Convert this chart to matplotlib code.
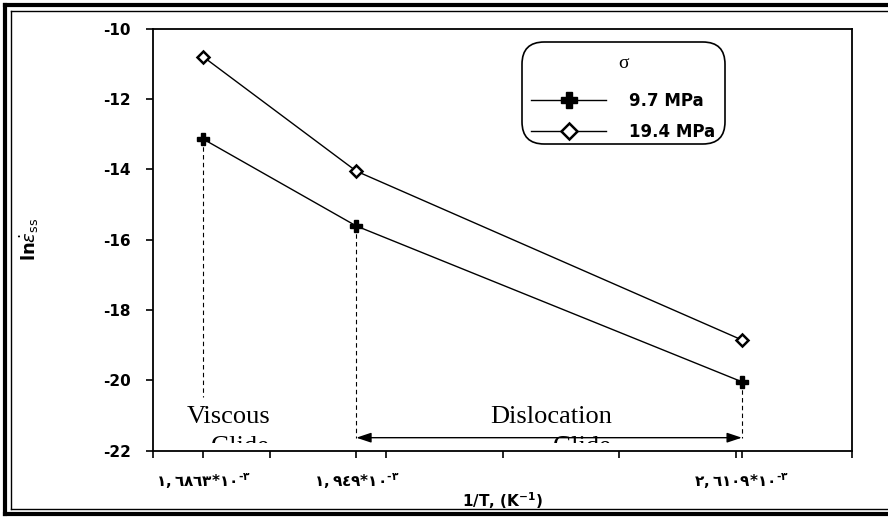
import numpy as np
from matplotlib import pyplot as plt
from matplotlib.lines import Line2D
from matplotlib.patches import Rectangle, FancyBboxPatch

# 1/T values (x 10^-3 K^-1) and ln(strain rate) for each stress level
inv_T = [1.6863, 1.949, 2.6109]
ln_rate_97 = [-13.14, -15.61, -20.04]
ln_rate_194 = [-10.80, -14.05, -18.85]
series_labels = ["9.7 MPa", "19.4 MPa"]
tick_labels = [
    r"$\mathbf{١,٦٨٦٣{*}١٠}^{\mathbf{‐٣}}$",
    r"$\mathbf{١,٩٤٩{*}١٠}^{\mathbf{‐٣}}$",
    r"$\mathbf{٢,٦١٠٩{*}١٠}^{\mathbf{‐٣}}$",
]

plt.rcParams["font.family"] = ["DejaVu Sans"]
plt.rcParams["mathtext.fontset"] = "dejavusans"
plt.rcParams["axes.unicode_minus"] = False

W, H = 888, 519
fig = plt.figure(figsize=(W / 100, H / 100), dpi=100)
ax = fig.add_axes([153 / W, 1 - 450.7 / H, 699 / W, 422 / H])

ax.plot(inv_T, ln_rate_97, color="k", lw=1.0, marker="P", ms=9,
        mfc="k", mec="k", label=series_labels[0])
ax.plot(inv_T, ln_rate_194, color="k", lw=1.0, marker="D", ms=6,
        mfc="white", mec="k", mew=1.8, label=series_labels[1])

# dashed drop lines
ax.plot([inv_T[0], inv_T[0]], [ln_rate_97[0], -20.47], "k--", lw=0.8,
        dashes=(4, 3))
for xv, yv in zip(inv_T[1:], ln_rate_97[1:]):
    ax.plot([xv, xv], [yv, -21.63], "k--", lw=0.8, dashes=(4, 3))

ax.annotate("", xy=(inv_T[1], -21.63), xytext=(inv_T[2], -21.63),
            arrowprops=dict(arrowstyle="<|-|>,head_length=0.9,head_width=0.3",
                            mutation_scale=10, color="k", lw=1.0,
                            shrinkA=0, shrinkB=0))

clip = Rectangle((1.6, -21.78), 1.2, 12, transform=ax.transData)
for xt, line1 in [(1.801, "Viscous"), (2.388, "Dislocation")]:
    ax.text(xt, -21.21, line1, family="Liberation Serif", fontsize=19,
            ha="right", va="baseline")
    t = ax.text(xt, -22.065, "Glide", family="Liberation Serif", fontsize=19,
                ha="right", va="baseline")
    t.set_clip_path(clip)
    t.set_clip_on(True)

ax.set_xlim(1.6, 2.8)
ax.set_ylim(-22, -10)
ax.set_xticks(np.arange(1.6, 2.81, 0.2))
ax.set_xticklabels([])
ax.set_xticks(inv_T, tick_labels, minor=True)
ax.set_yticks(np.arange(-22, -9, 2))
ax.tick_params(axis="both", which="both", direction="out", length=5,
               width=1.2, color="k")
ax.tick_params(axis="y", labelsize=11, pad=11)
ax.tick_params(axis="x", which="minor", labelsize=11, pad=10)
for lab in ax.get_yticklabels():
    lab.set_fontweight("bold")
for sp in ax.spines.values():
    sp.set_linewidth(1.3)

ax.set_xlabel(r"1/T, (K$^{\mathbf{-1}}$)", fontsize=11, fontweight="bold")
ax.xaxis.set_label_coords(0.5, -0.095)
ax.set_ylabel(r"$\mathbf{ln}\dot{\varepsilon}_{\mathrm{ss}}$", fontsize=13)
ax.yaxis.set_label_coords(-0.16, 0.5)

# legend: rounded box, sigma title, two entries
box = FancyBboxPatch((522 / W, 1 - 144 / H), 203 / W, 102 / H,
                     boxstyle="round,pad=0,rounding_size=0.025",
                     transform=fig.transFigure, fc="white", ec="k", lw=1.2,
                     mutation_aspect=W / H, zorder=5)
fig.add_artist(box)
fig.text(623 / W, 1 - 63 / H, "σ", family="Liberation Serif", fontsize=14,
         ha="center", va="center", zorder=6)
handles, labels = ax.get_legend_handles_labels()
leg = fig.legend(handles, labels, loc="upper left",
                 bbox_to_anchor=(531 / W, 1 - 92 / H),
                 bbox_transform=fig.transFigure, borderaxespad=0, borderpad=0,
                 handlelength=4.5, labelspacing=0.75, markerscale=1.3,
                 prop={"weight": "bold", "size": 12}, frameon=False,
                 handletextpad=1.4)
leg.set_zorder(7)

# double border around figure
for lw, off in [(3.0, 5), (1.0, 10.5)]:
    fig.add_artist(Line2D([off / W, off / W], [off / H, 1 - off / H],
                          transform=fig.transFigure, color="k", lw=lw))
    fig.add_artist(Line2D([off / W, 1], [1 - off / H, 1 - off / H],
                          transform=fig.transFigure, color="k", lw=lw))
    fig.add_artist(Line2D([off / W, 1], [off / H, off / H],
                          transform=fig.transFigure, color="k", lw=lw))

fig.savefig("out.png", dpi=100)
